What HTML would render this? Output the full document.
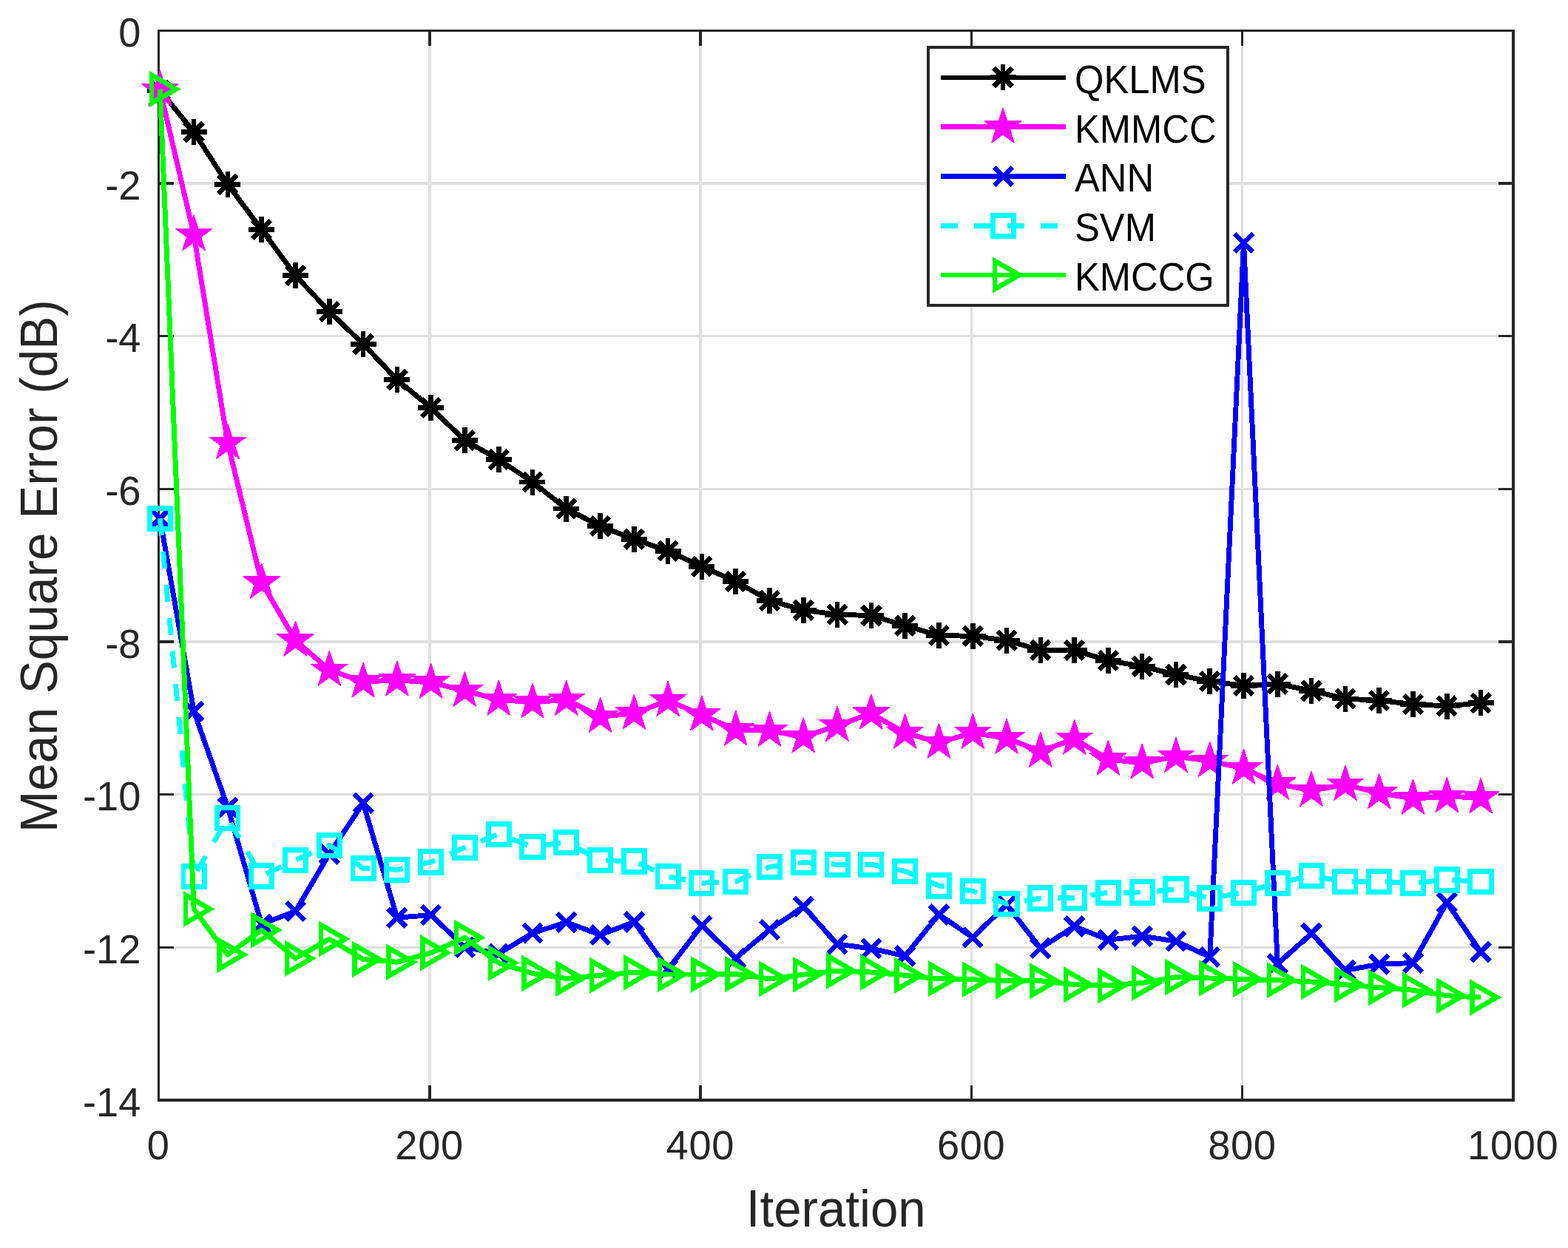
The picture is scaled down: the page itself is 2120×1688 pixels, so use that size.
<!DOCTYPE html>
<html lang="en"><head><meta charset="utf-8"><title>Mean Square Error vs Iteration</title>
<style>html,body{margin:0;padding:0;background:#fff}body{width:2120px;height:1688px;overflow:hidden}svg{display:block}text{font-family:"Liberation Sans",sans-serif}</style>
</head><body>
<svg xmlns="http://www.w3.org/2000/svg" width="2120" height="1688" viewBox="0 0 2120 1688">
<rect width="2120" height="1688" fill="#ffffff"/>
<g stroke="#dfdfdf" stroke-width="3.4" fill="none" shape-rendering="crispEdges">
<line x1="580.8" y1="41.5" x2="580.8" y2="1488.0"/>
<line x1="947.1" y1="41.5" x2="947.1" y2="1488.0"/>
<line x1="1313.4" y1="41.5" x2="1313.4" y2="1488.0"/>
<line x1="1679.7" y1="41.5" x2="1679.7" y2="1488.0"/>
<line x1="214.5" y1="248.14" x2="2046.0" y2="248.14"/>
<line x1="214.5" y1="454.79" x2="2046.0" y2="454.79"/>
<line x1="214.5" y1="661.43" x2="2046.0" y2="661.43"/>
<line x1="214.5" y1="868.07" x2="2046.0" y2="868.07"/>
<line x1="214.5" y1="1074.71" x2="2046.0" y2="1074.71"/>
<line x1="214.5" y1="1281.36" x2="2046.0" y2="1281.36"/>
</g>
<g stroke="#262626" stroke-width="3.4" fill="none" shape-rendering="crispEdges">
<rect x="214.5" y="41.5" width="1831.5" height="1446.5"/>
<line x1="580.8" y1="1488.0" x2="580.8" y2="1467.5"/>
<line x1="580.8" y1="41.5" x2="580.8" y2="62"/>
<line x1="947.1" y1="1488.0" x2="947.1" y2="1467.5"/>
<line x1="947.1" y1="41.5" x2="947.1" y2="62"/>
<line x1="1313.4" y1="1488.0" x2="1313.4" y2="1467.5"/>
<line x1="1313.4" y1="41.5" x2="1313.4" y2="62"/>
<line x1="1679.7" y1="1488.0" x2="1679.7" y2="1467.5"/>
<line x1="1679.7" y1="41.5" x2="1679.7" y2="62"/>
<line x1="214.5" y1="248.14" x2="235" y2="248.14"/>
<line x1="2046.0" y1="248.14" x2="2025.5" y2="248.14"/>
<line x1="214.5" y1="454.79" x2="235" y2="454.79"/>
<line x1="2046.0" y1="454.79" x2="2025.5" y2="454.79"/>
<line x1="214.5" y1="661.43" x2="235" y2="661.43"/>
<line x1="2046.0" y1="661.43" x2="2025.5" y2="661.43"/>
<line x1="214.5" y1="868.07" x2="235" y2="868.07"/>
<line x1="2046.0" y1="868.07" x2="2025.5" y2="868.07"/>
<line x1="214.5" y1="1074.71" x2="235" y2="1074.71"/>
<line x1="2046.0" y1="1074.71" x2="2025.5" y2="1074.71"/>
<line x1="214.5" y1="1281.36" x2="235" y2="1281.36"/>
<line x1="2046.0" y1="1281.36" x2="2025.5" y2="1281.36"/>
</g>
<g fill="#262626" font-size="54.2px">
<g letter-spacing="0.7">
<text transform="translate(214.25 1568.4) scale(1 1.04)" text-anchor="middle">0</text>
<text transform="translate(580.55 1568.4) scale(1 1.04)" text-anchor="middle">200</text>
<text transform="translate(946.85 1568.4) scale(1 1.04)" text-anchor="middle">400</text>
<text transform="translate(1313.15 1568.4) scale(1 1.04)" text-anchor="middle">600</text>
<text transform="translate(1679.45 1568.4) scale(1 1.04)" text-anchor="middle">800</text>
<text transform="translate(2045.75 1568.4) scale(1 1.04)" text-anchor="middle">1000</text>
</g>
<text transform="translate(190.4 63.2) scale(1 1.04)" text-anchor="end">0</text>
<text transform="translate(190.4 269.84) scale(1 1.04)" text-anchor="end">-2</text>
<text transform="translate(190.4 476.49) scale(1 1.04)" text-anchor="end">-4</text>
<text transform="translate(190.4 683.13) scale(1 1.04)" text-anchor="end">-6</text>
<text transform="translate(190.4 889.77) scale(1 1.04)" text-anchor="end">-8</text>
<text transform="translate(190.4 1096.41) scale(1 1.04)" text-anchor="end">-10</text>
<text transform="translate(190.4 1303.06) scale(1 1.04)" text-anchor="end">-12</text>
<text transform="translate(190.4 1509.7) scale(1 1.04)" text-anchor="end">-14</text>
</g>
<g fill="#262626" font-size="67.2px">
<text transform="translate(1130.25 1658.8) scale(1 1.04)" text-anchor="middle">Iteration</text>
<text transform="translate(77 765.6) rotate(-90) scale(1 1.04)" text-anchor="middle" font-size="67.55px">Mean Square Error (dB)</text>
</g>
<g shape-rendering="crispEdges">
<g><polyline points="216.33,122.2 262.12,178.5 307.91,249.3 353.69,310.5 399.48,372.5 445.27,421.5 491.06,465.4 536.84,513.5 582.63,551.6 628.42,595.75 674.21,621.5 719.99,652 765.78,688 811.57,711.75 857.36,729.25 903.14,745.2 948.93,766.25 994.72,786.5 1040.51,812.25 1086.29,825.25 1132.08,831.25 1177.87,832.5 1223.66,846.25 1269.44,859.5 1315.23,860.25 1361.02,866.25 1406.81,879.4 1452.59,879.5 1498.38,893.5 1544.17,901.25 1589.96,912.5 1635.74,921.5 1681.53,927.4 1727.32,925 1773.11,934.4 1818.89,945 1864.68,947.5 1910.47,952.5 1956.26,955 2002.04,950.75" fill="none" stroke="#000000" stroke-width="6.9" stroke-linejoin="round"/>
<path d="M198.83 122.2H233.83M216.33 104.7V139.7M203.96 109.83L228.71 134.57M203.96 134.57L228.71 109.83" stroke="#000000" stroke-width="6.6" fill="none"/>
<path d="M244.62 178.5H279.62M262.12 161V196M249.74 166.13L274.49 190.87M249.74 190.87L274.49 166.13" stroke="#000000" stroke-width="6.6" fill="none"/>
<path d="M290.41 249.3H325.41M307.91 231.8V266.8M295.53 236.93L320.28 261.67M295.53 261.67L320.28 236.93" stroke="#000000" stroke-width="6.6" fill="none"/>
<path d="M336.19 310.5H371.19M353.69 293V328M341.32 298.13L366.07 322.87M341.32 322.87L366.07 298.13" stroke="#000000" stroke-width="6.6" fill="none"/>
<path d="M381.98 372.5H416.98M399.48 355V390M387.11 360.13L411.86 384.87M387.11 384.87L411.86 360.13" stroke="#000000" stroke-width="6.6" fill="none"/>
<path d="M427.77 421.5H462.77M445.27 404V439M432.89 409.13L457.64 433.87M432.89 433.87L457.64 409.13" stroke="#000000" stroke-width="6.6" fill="none"/>
<path d="M473.56 465.4H508.56M491.06 447.9V482.9M478.68 453.03L503.43 477.77M478.68 477.77L503.43 453.03" stroke="#000000" stroke-width="6.6" fill="none"/>
<path d="M519.34 513.5H554.34M536.84 496V531M524.47 501.13L549.22 525.87M524.47 525.87L549.22 501.13" stroke="#000000" stroke-width="6.6" fill="none"/>
<path d="M565.13 551.6H600.13M582.63 534.1V569.1M570.26 539.23L595.01 563.97M570.26 563.97L595.01 539.23" stroke="#000000" stroke-width="6.6" fill="none"/>
<path d="M610.92 595.75H645.92M628.42 578.25V613.25M616.04 583.38L640.79 608.12M616.04 608.12L640.79 583.38" stroke="#000000" stroke-width="6.6" fill="none"/>
<path d="M656.71 621.5H691.71M674.21 604V639M661.83 609.13L686.58 633.87M661.83 633.87L686.58 609.13" stroke="#000000" stroke-width="6.6" fill="none"/>
<path d="M702.49 652H737.49M719.99 634.5V669.5M707.62 639.63L732.37 664.37M707.62 664.37L732.37 639.63" stroke="#000000" stroke-width="6.6" fill="none"/>
<path d="M748.28 688H783.28M765.78 670.5V705.5M753.41 675.63L778.16 700.37M753.41 700.37L778.16 675.63" stroke="#000000" stroke-width="6.6" fill="none"/>
<path d="M794.07 711.75H829.07M811.57 694.25V729.25M799.19 699.38L823.94 724.12M799.19 724.12L823.94 699.38" stroke="#000000" stroke-width="6.6" fill="none"/>
<path d="M839.86 729.25H874.86M857.36 711.75V746.75M844.98 716.88L869.73 741.62M844.98 741.62L869.73 716.88" stroke="#000000" stroke-width="6.6" fill="none"/>
<path d="M885.64 745.2H920.64M903.14 727.7V762.7M890.77 732.83L915.52 757.57M890.77 757.57L915.52 732.83" stroke="#000000" stroke-width="6.6" fill="none"/>
<path d="M931.43 766.25H966.43M948.93 748.75V783.75M936.56 753.88L961.31 778.62M936.56 778.62L961.31 753.88" stroke="#000000" stroke-width="6.6" fill="none"/>
<path d="M977.22 786.5H1012.22M994.72 769V804M982.34 774.13L1007.09 798.87M982.34 798.87L1007.09 774.13" stroke="#000000" stroke-width="6.6" fill="none"/>
<path d="M1023.01 812.25H1058.01M1040.51 794.75V829.75M1028.13 799.88L1052.88 824.62M1028.13 824.62L1052.88 799.88" stroke="#000000" stroke-width="6.6" fill="none"/>
<path d="M1068.79 825.25H1103.79M1086.29 807.75V842.75M1073.92 812.88L1098.67 837.62M1073.92 837.62L1098.67 812.88" stroke="#000000" stroke-width="6.6" fill="none"/>
<path d="M1114.58 831.25H1149.58M1132.08 813.75V848.75M1119.71 818.88L1144.46 843.62M1119.71 843.62L1144.46 818.88" stroke="#000000" stroke-width="6.6" fill="none"/>
<path d="M1160.37 832.5H1195.37M1177.87 815V850M1165.49 820.13L1190.24 844.87M1165.49 844.87L1190.24 820.13" stroke="#000000" stroke-width="6.6" fill="none"/>
<path d="M1206.16 846.25H1241.16M1223.66 828.75V863.75M1211.28 833.88L1236.03 858.62M1211.28 858.62L1236.03 833.88" stroke="#000000" stroke-width="6.6" fill="none"/>
<path d="M1251.94 859.5H1286.94M1269.44 842V877M1257.07 847.13L1281.82 871.87M1257.07 871.87L1281.82 847.13" stroke="#000000" stroke-width="6.6" fill="none"/>
<path d="M1297.73 860.25H1332.73M1315.23 842.75V877.75M1302.86 847.88L1327.61 872.62M1302.86 872.62L1327.61 847.88" stroke="#000000" stroke-width="6.6" fill="none"/>
<path d="M1343.52 866.25H1378.52M1361.02 848.75V883.75M1348.64 853.88L1373.39 878.62M1348.64 878.62L1373.39 853.88" stroke="#000000" stroke-width="6.6" fill="none"/>
<path d="M1389.31 879.4H1424.31M1406.81 861.9V896.9M1394.43 867.03L1419.18 891.77M1394.43 891.77L1419.18 867.03" stroke="#000000" stroke-width="6.6" fill="none"/>
<path d="M1435.09 879.5H1470.09M1452.59 862V897M1440.22 867.13L1464.97 891.87M1440.22 891.87L1464.97 867.13" stroke="#000000" stroke-width="6.6" fill="none"/>
<path d="M1480.88 893.5H1515.88M1498.38 876V911M1486.01 881.13L1510.76 905.87M1486.01 905.87L1510.76 881.13" stroke="#000000" stroke-width="6.6" fill="none"/>
<path d="M1526.67 901.25H1561.67M1544.17 883.75V918.75M1531.79 888.88L1556.54 913.62M1531.79 913.62L1556.54 888.88" stroke="#000000" stroke-width="6.6" fill="none"/>
<path d="M1572.46 912.5H1607.46M1589.96 895V930M1577.58 900.13L1602.33 924.87M1577.58 924.87L1602.33 900.13" stroke="#000000" stroke-width="6.6" fill="none"/>
<path d="M1618.24 921.5H1653.24M1635.74 904V939M1623.37 909.13L1648.12 933.87M1623.37 933.87L1648.12 909.13" stroke="#000000" stroke-width="6.6" fill="none"/>
<path d="M1664.03 927.4H1699.03M1681.53 909.9V944.9M1669.16 915.03L1693.91 939.77M1669.16 939.77L1693.91 915.03" stroke="#000000" stroke-width="6.6" fill="none"/>
<path d="M1709.82 925H1744.82M1727.32 907.5V942.5M1714.94 912.63L1739.69 937.37M1714.94 937.37L1739.69 912.63" stroke="#000000" stroke-width="6.6" fill="none"/>
<path d="M1755.61 934.4H1790.61M1773.11 916.9V951.9M1760.73 922.03L1785.48 946.77M1760.73 946.77L1785.48 922.03" stroke="#000000" stroke-width="6.6" fill="none"/>
<path d="M1801.39 945H1836.39M1818.89 927.5V962.5M1806.52 932.63L1831.27 957.37M1806.52 957.37L1831.27 932.63" stroke="#000000" stroke-width="6.6" fill="none"/>
<path d="M1847.18 947.5H1882.18M1864.68 930V965M1852.31 935.13L1877.06 959.87M1852.31 959.87L1877.06 935.13" stroke="#000000" stroke-width="6.6" fill="none"/>
<path d="M1892.97 952.5H1927.97M1910.47 935V970M1898.09 940.13L1922.84 964.87M1898.09 964.87L1922.84 940.13" stroke="#000000" stroke-width="6.6" fill="none"/>
<path d="M1938.76 955H1973.76M1956.26 937.5V972.5M1943.88 942.63L1968.63 967.37M1943.88 967.37L1968.63 942.63" stroke="#000000" stroke-width="6.6" fill="none"/>
<path d="M1984.54 950.75H2019.54M2002.04 933.25V968.25M1989.67 938.38L2014.42 963.12M1989.67 963.12L2014.42 938.38" stroke="#000000" stroke-width="6.6" fill="none"/>
</g>
<g><polyline points="216.33,121.7 262.12,317.5 307.91,599.25 353.69,788 399.48,866 445.27,906.25 491.06,922 536.84,920 582.63,923 628.42,934.25 674.21,946.25 719.99,950 765.78,946.25 811.57,969.25 857.36,965 903.14,947.5 948.93,967 994.72,987 1040.51,988.25 1086.29,996.75 1132.08,981.25 1177.87,965 1223.66,991.25 1269.44,1004.25 1315.23,991.25 1361.02,998.25 1406.81,1016.25 1452.59,999.25 1498.38,1027 1544.17,1032 1589.96,1023.25 1635.74,1029.25 1681.53,1039.25 1727.32,1060 1773.11,1069.25 1818.89,1061.25 1864.68,1072.5 1910.47,1080 1956.26,1077.5 2002.04,1078.75" fill="none" stroke="#ff00ff" stroke-width="6.9" stroke-linejoin="round"/>
<polygon points="215.81,95.3 216.85,95.3 222.62,113.05 241.28,113.05 241.6,114.04 226.5,125 232.27,142.75 231.43,143.36 216.33,132.4 201.23,143.36 200.39,142.75 206.16,125 191.06,114.04 191.38,113.05 210.05,113.05" fill="#ff00ff"/>
<polygon points="261.6,291.1 262.64,291.1 268.41,308.85 287.07,308.85 287.39,309.84 272.29,320.8 278.06,338.55 277.22,339.16 262.12,328.2 247.02,339.16 246.18,338.55 251.95,320.8 236.85,309.84 237.17,308.85 255.83,308.85" fill="#ff00ff"/>
<polygon points="307.39,572.85 308.43,572.85 314.19,590.6 332.85,590.6 333.18,591.59 318.08,602.55 323.84,620.3 323,620.91 307.91,609.95 292.81,620.91 291.97,620.3 297.73,602.55 282.64,591.59 282.96,590.6 301.62,590.6" fill="#ff00ff"/>
<polygon points="353.17,761.6 354.21,761.6 359.98,779.35 378.64,779.35 378.96,780.34 363.87,791.3 369.63,809.05 368.79,809.66 353.69,798.7 338.6,809.66 337.76,809.05 343.52,791.3 328.43,780.34 328.75,779.35 347.41,779.35" fill="#ff00ff"/>
<polygon points="398.96,839.6 400,839.6 405.77,857.35 424.43,857.35 424.75,858.34 409.65,869.3 415.42,887.05 414.58,887.66 399.48,876.7 384.38,887.66 383.54,887.05 389.31,869.3 374.21,858.34 374.53,857.35 393.2,857.35" fill="#ff00ff"/>
<polygon points="444.75,879.85 445.79,879.85 451.56,897.6 470.22,897.6 470.54,898.59 455.44,909.55 461.21,927.3 460.37,927.91 445.27,916.95 430.17,927.91 429.33,927.3 435.1,909.55 420,898.59 420.32,897.6 438.98,897.6" fill="#ff00ff"/>
<polygon points="490.54,895.6 491.58,895.6 497.34,913.35 516,913.35 516.33,914.34 501.23,925.3 506.99,943.05 506.15,943.66 491.06,932.7 475.96,943.66 475.12,943.05 480.88,925.3 465.79,914.34 466.11,913.35 484.77,913.35" fill="#ff00ff"/>
<polygon points="536.32,893.6 537.36,893.6 543.13,911.35 561.79,911.35 562.11,912.34 547.02,923.3 552.78,941.05 551.94,941.66 536.84,930.7 521.75,941.66 520.91,941.05 526.67,923.3 511.58,912.34 511.9,911.35 530.56,911.35" fill="#ff00ff"/>
<polygon points="582.11,896.6 583.15,896.6 588.92,914.35 607.58,914.35 607.9,915.34 592.8,926.3 598.57,944.05 597.73,944.66 582.63,933.7 567.53,944.66 566.69,944.05 572.46,926.3 557.36,915.34 557.68,914.35 576.35,914.35" fill="#ff00ff"/>
<polygon points="627.9,907.85 628.94,907.85 634.71,925.6 653.37,925.6 653.69,926.59 638.59,937.55 644.36,955.3 643.52,955.91 628.42,944.95 613.32,955.91 612.48,955.3 618.25,937.55 603.15,926.59 603.47,925.6 622.13,925.6" fill="#ff00ff"/>
<polygon points="673.69,919.85 674.73,919.85 680.49,937.6 699.15,937.6 699.48,938.59 684.38,949.55 690.14,967.3 689.3,967.91 674.21,956.95 659.11,967.91 658.27,967.3 664.03,949.55 648.94,938.59 649.26,937.6 667.92,937.6" fill="#ff00ff"/>
<polygon points="719.47,923.6 720.51,923.6 726.28,941.35 744.94,941.35 745.26,942.34 730.17,953.3 735.93,971.05 735.09,971.66 719.99,960.7 704.9,971.66 704.06,971.05 709.82,953.3 694.73,942.34 695.05,941.35 713.71,941.35" fill="#ff00ff"/>
<polygon points="765.26,919.85 766.3,919.85 772.07,937.6 790.73,937.6 791.05,938.59 775.95,949.55 781.72,967.3 780.88,967.91 765.78,956.95 750.68,967.91 749.84,967.3 755.61,949.55 740.51,938.59 740.83,937.6 759.5,937.6" fill="#ff00ff"/>
<polygon points="811.05,942.85 812.09,942.85 817.86,960.6 836.52,960.6 836.84,961.59 821.74,972.55 827.51,990.3 826.67,990.91 811.57,979.95 796.47,990.91 795.63,990.3 801.4,972.55 786.3,961.59 786.62,960.6 805.28,960.6" fill="#ff00ff"/>
<polygon points="856.84,938.6 857.88,938.6 863.64,956.35 882.3,956.35 882.63,957.34 867.53,968.3 873.29,986.05 872.45,986.66 857.36,975.7 842.26,986.66 841.42,986.05 847.18,968.3 832.09,957.34 832.41,956.35 851.07,956.35" fill="#ff00ff"/>
<polygon points="902.62,921.1 903.66,921.1 909.43,938.85 928.09,938.85 928.41,939.84 913.32,950.8 919.08,968.55 918.24,969.16 903.14,958.2 888.05,969.16 887.21,968.55 892.97,950.8 877.88,939.84 878.2,938.85 896.86,938.85" fill="#ff00ff"/>
<polygon points="948.41,940.6 949.45,940.6 955.22,958.35 973.88,958.35 974.2,959.34 959.1,970.3 964.87,988.05 964.03,988.66 948.93,977.7 933.83,988.66 932.99,988.05 938.76,970.3 923.66,959.34 923.98,958.35 942.65,958.35" fill="#ff00ff"/>
<polygon points="994.2,960.6 995.24,960.6 1001.01,978.35 1019.67,978.35 1019.99,979.34 1004.89,990.3 1010.66,1008.05 1009.82,1008.66 994.72,997.7 979.62,1008.66 978.78,1008.05 984.55,990.3 969.45,979.34 969.77,978.35 988.43,978.35" fill="#ff00ff"/>
<polygon points="1039.99,961.85 1041.03,961.85 1046.79,979.6 1065.45,979.6 1065.78,980.59 1050.68,991.55 1056.44,1009.3 1055.6,1009.91 1040.51,998.95 1025.41,1009.91 1024.57,1009.3 1030.33,991.55 1015.24,980.59 1015.56,979.6 1034.22,979.6" fill="#ff00ff"/>
<polygon points="1085.77,970.35 1086.81,970.35 1092.58,988.1 1111.24,988.1 1111.56,989.09 1096.47,1000.05 1102.23,1017.8 1101.39,1018.41 1086.29,1007.45 1071.2,1018.41 1070.36,1017.8 1076.12,1000.05 1061.03,989.09 1061.35,988.1 1080.01,988.1" fill="#ff00ff"/>
<polygon points="1131.56,954.85 1132.6,954.85 1138.37,972.6 1157.03,972.6 1157.35,973.59 1142.25,984.55 1148.02,1002.3 1147.18,1002.91 1132.08,991.95 1116.98,1002.91 1116.14,1002.3 1121.91,984.55 1106.81,973.59 1107.13,972.6 1125.8,972.6" fill="#ff00ff"/>
<polygon points="1177.35,938.6 1178.39,938.6 1184.16,956.35 1202.82,956.35 1203.14,957.34 1188.04,968.3 1193.81,986.05 1192.97,986.66 1177.87,975.7 1162.77,986.66 1161.93,986.05 1167.7,968.3 1152.6,957.34 1152.92,956.35 1171.58,956.35" fill="#ff00ff"/>
<polygon points="1223.14,964.85 1224.18,964.85 1229.94,982.6 1248.6,982.6 1248.93,983.59 1233.83,994.55 1239.59,1012.3 1238.75,1012.91 1223.66,1001.95 1208.56,1012.91 1207.72,1012.3 1213.48,994.55 1198.39,983.59 1198.71,982.6 1217.37,982.6" fill="#ff00ff"/>
<polygon points="1268.92,977.85 1269.96,977.85 1275.73,995.6 1294.39,995.6 1294.71,996.59 1279.62,1007.55 1285.38,1025.3 1284.54,1025.91 1269.44,1014.95 1254.35,1025.91 1253.51,1025.3 1259.27,1007.55 1244.18,996.59 1244.5,995.6 1263.16,995.6" fill="#ff00ff"/>
<polygon points="1314.71,964.85 1315.75,964.85 1321.52,982.6 1340.18,982.6 1340.5,983.59 1325.4,994.55 1331.17,1012.3 1330.33,1012.91 1315.23,1001.95 1300.13,1012.91 1299.29,1012.3 1305.06,994.55 1289.96,983.59 1290.28,982.6 1308.95,982.6" fill="#ff00ff"/>
<polygon points="1360.5,971.85 1361.54,971.85 1367.31,989.6 1385.97,989.6 1386.29,990.59 1371.19,1001.55 1376.96,1019.3 1376.12,1019.91 1361.02,1008.95 1345.92,1019.91 1345.08,1019.3 1350.85,1001.55 1335.75,990.59 1336.07,989.6 1354.73,989.6" fill="#ff00ff"/>
<polygon points="1406.29,989.85 1407.33,989.85 1413.09,1007.6 1431.75,1007.6 1432.08,1008.59 1416.98,1019.55 1422.74,1037.3 1421.9,1037.91 1406.81,1026.95 1391.71,1037.91 1390.87,1037.3 1396.63,1019.55 1381.54,1008.59 1381.86,1007.6 1400.52,1007.6" fill="#ff00ff"/>
<polygon points="1452.07,972.85 1453.11,972.85 1458.88,990.6 1477.54,990.6 1477.86,991.59 1462.77,1002.55 1468.53,1020.3 1467.69,1020.91 1452.59,1009.95 1437.5,1020.91 1436.66,1020.3 1442.42,1002.55 1427.33,991.59 1427.65,990.6 1446.31,990.6" fill="#ff00ff"/>
<polygon points="1497.86,1000.6 1498.9,1000.6 1504.67,1018.35 1523.33,1018.35 1523.65,1019.34 1508.55,1030.3 1514.32,1048.05 1513.48,1048.66 1498.38,1037.7 1483.28,1048.66 1482.44,1048.05 1488.21,1030.3 1473.11,1019.34 1473.43,1018.35 1492.1,1018.35" fill="#ff00ff"/>
<polygon points="1543.65,1005.6 1544.69,1005.6 1550.46,1023.35 1569.12,1023.35 1569.44,1024.34 1554.34,1035.3 1560.11,1053.05 1559.27,1053.66 1544.17,1042.7 1529.07,1053.66 1528.23,1053.05 1534,1035.3 1518.9,1024.34 1519.22,1023.35 1537.88,1023.35" fill="#ff00ff"/>
<polygon points="1589.44,996.85 1590.48,996.85 1596.24,1014.6 1614.9,1014.6 1615.23,1015.59 1600.13,1026.55 1605.89,1044.3 1605.05,1044.91 1589.96,1033.95 1574.86,1044.91 1574.02,1044.3 1579.78,1026.55 1564.69,1015.59 1565.01,1014.6 1583.67,1014.6" fill="#ff00ff"/>
<polygon points="1635.22,1002.85 1636.26,1002.85 1642.03,1020.6 1660.69,1020.6 1661.01,1021.59 1645.92,1032.55 1651.68,1050.3 1650.84,1050.91 1635.74,1039.95 1620.65,1050.91 1619.81,1050.3 1625.57,1032.55 1610.48,1021.59 1610.8,1020.6 1629.46,1020.6" fill="#ff00ff"/>
<polygon points="1681.01,1012.85 1682.05,1012.85 1687.82,1030.6 1706.48,1030.6 1706.8,1031.59 1691.7,1042.55 1697.47,1060.3 1696.63,1060.91 1681.53,1049.95 1666.43,1060.91 1665.59,1060.3 1671.36,1042.55 1656.26,1031.59 1656.58,1030.6 1675.25,1030.6" fill="#ff00ff"/>
<polygon points="1726.8,1033.6 1727.84,1033.6 1733.61,1051.35 1752.27,1051.35 1752.59,1052.34 1737.49,1063.3 1743.26,1081.05 1742.42,1081.66 1727.32,1070.7 1712.22,1081.66 1711.38,1081.05 1717.15,1063.3 1702.05,1052.34 1702.37,1051.35 1721.03,1051.35" fill="#ff00ff"/>
<polygon points="1772.59,1042.85 1773.63,1042.85 1779.39,1060.6 1798.05,1060.6 1798.38,1061.59 1783.28,1072.55 1789.04,1090.3 1788.2,1090.91 1773.11,1079.95 1758.01,1090.91 1757.17,1090.3 1762.93,1072.55 1747.84,1061.59 1748.16,1060.6 1766.82,1060.6" fill="#ff00ff"/>
<polygon points="1818.37,1034.85 1819.41,1034.85 1825.18,1052.6 1843.84,1052.6 1844.16,1053.59 1829.07,1064.55 1834.83,1082.3 1833.99,1082.91 1818.89,1071.95 1803.8,1082.91 1802.96,1082.3 1808.72,1064.55 1793.63,1053.59 1793.95,1052.6 1812.61,1052.6" fill="#ff00ff"/>
<polygon points="1864.16,1046.1 1865.2,1046.1 1870.97,1063.85 1889.63,1063.85 1889.95,1064.84 1874.85,1075.8 1880.62,1093.55 1879.78,1094.16 1864.68,1083.2 1849.58,1094.16 1848.74,1093.55 1854.51,1075.8 1839.41,1064.84 1839.73,1063.85 1858.4,1063.85" fill="#ff00ff"/>
<polygon points="1909.95,1053.6 1910.99,1053.6 1916.76,1071.35 1935.42,1071.35 1935.74,1072.34 1920.64,1083.3 1926.41,1101.05 1925.57,1101.66 1910.47,1090.7 1895.37,1101.66 1894.53,1101.05 1900.3,1083.3 1885.2,1072.34 1885.52,1071.35 1904.18,1071.35" fill="#ff00ff"/>
<polygon points="1955.74,1051.1 1956.78,1051.1 1962.54,1068.85 1981.2,1068.85 1981.53,1069.84 1966.43,1080.8 1972.19,1098.55 1971.35,1099.16 1956.26,1088.2 1941.16,1099.16 1940.32,1098.55 1946.08,1080.8 1930.99,1069.84 1931.31,1068.85 1949.97,1068.85" fill="#ff00ff"/>
<polygon points="2001.52,1052.35 2002.56,1052.35 2008.33,1070.1 2026.99,1070.1 2027.31,1071.09 2012.22,1082.05 2017.98,1099.8 2017.14,1100.41 2002.04,1089.45 1986.95,1100.41 1986.11,1099.8 1991.87,1082.05 1976.78,1071.09 1977.1,1070.1 1995.76,1070.1" fill="#ff00ff"/>
</g>
<g><polyline points="216.33,701.25 262.12,962 307.91,1092 353.69,1250 399.48,1232.5 445.27,1155 491.06,1086.25 536.84,1241.25 582.63,1237.5 628.42,1281.25 674.21,1290 719.99,1262 765.78,1247.5 811.57,1264.5 857.36,1247 903.14,1311 948.93,1251.75 994.72,1296 1040.51,1257.5 1086.29,1226.25 1132.08,1277 1177.87,1283 1223.66,1293 1269.44,1237 1315.23,1268 1361.02,1223.75 1406.81,1282.5 1452.59,1253 1498.38,1271.25 1544.17,1266.25 1589.96,1273 1635.74,1294.5 1681.53,328.25 1727.32,1303.75 1773.11,1262.5 1818.89,1312.5 1864.68,1304.25 1910.47,1302.5 1956.26,1220.75 2002.04,1287.5" fill="none" stroke="#0000ff" stroke-width="6.9" stroke-linejoin="round"/>
<path d="M203.96 688.88L228.71 713.62M203.96 713.62L228.71 688.88" stroke="#0000ff" stroke-width="6.6" fill="none"/>
<path d="M249.74 949.63L274.49 974.37M249.74 974.37L274.49 949.63" stroke="#0000ff" stroke-width="6.6" fill="none"/>
<path d="M295.53 1079.63L320.28 1104.37M295.53 1104.37L320.28 1079.63" stroke="#0000ff" stroke-width="6.6" fill="none"/>
<path d="M341.32 1237.63L366.07 1262.37M341.32 1262.37L366.07 1237.63" stroke="#0000ff" stroke-width="6.6" fill="none"/>
<path d="M387.11 1220.13L411.86 1244.87M387.11 1244.87L411.86 1220.13" stroke="#0000ff" stroke-width="6.6" fill="none"/>
<path d="M432.89 1142.63L457.64 1167.37M432.89 1167.37L457.64 1142.63" stroke="#0000ff" stroke-width="6.6" fill="none"/>
<path d="M478.68 1073.88L503.43 1098.62M478.68 1098.62L503.43 1073.88" stroke="#0000ff" stroke-width="6.6" fill="none"/>
<path d="M524.47 1228.88L549.22 1253.62M524.47 1253.62L549.22 1228.88" stroke="#0000ff" stroke-width="6.6" fill="none"/>
<path d="M570.26 1225.13L595.01 1249.87M570.26 1249.87L595.01 1225.13" stroke="#0000ff" stroke-width="6.6" fill="none"/>
<path d="M616.04 1268.88L640.79 1293.62M616.04 1293.62L640.79 1268.88" stroke="#0000ff" stroke-width="6.6" fill="none"/>
<path d="M661.83 1277.63L686.58 1302.37M661.83 1302.37L686.58 1277.63" stroke="#0000ff" stroke-width="6.6" fill="none"/>
<path d="M707.62 1249.63L732.37 1274.37M707.62 1274.37L732.37 1249.63" stroke="#0000ff" stroke-width="6.6" fill="none"/>
<path d="M753.41 1235.13L778.16 1259.87M753.41 1259.87L778.16 1235.13" stroke="#0000ff" stroke-width="6.6" fill="none"/>
<path d="M799.19 1252.13L823.94 1276.87M799.19 1276.87L823.94 1252.13" stroke="#0000ff" stroke-width="6.6" fill="none"/>
<path d="M844.98 1234.63L869.73 1259.37M844.98 1259.37L869.73 1234.63" stroke="#0000ff" stroke-width="6.6" fill="none"/>
<path d="M890.77 1298.63L915.52 1323.37M890.77 1323.37L915.52 1298.63" stroke="#0000ff" stroke-width="6.6" fill="none"/>
<path d="M936.56 1239.38L961.31 1264.12M936.56 1264.12L961.31 1239.38" stroke="#0000ff" stroke-width="6.6" fill="none"/>
<path d="M982.34 1283.63L1007.09 1308.37M982.34 1308.37L1007.09 1283.63" stroke="#0000ff" stroke-width="6.6" fill="none"/>
<path d="M1028.13 1245.13L1052.88 1269.87M1028.13 1269.87L1052.88 1245.13" stroke="#0000ff" stroke-width="6.6" fill="none"/>
<path d="M1073.92 1213.88L1098.67 1238.62M1073.92 1238.62L1098.67 1213.88" stroke="#0000ff" stroke-width="6.6" fill="none"/>
<path d="M1119.71 1264.63L1144.46 1289.37M1119.71 1289.37L1144.46 1264.63" stroke="#0000ff" stroke-width="6.6" fill="none"/>
<path d="M1165.49 1270.63L1190.24 1295.37M1165.49 1295.37L1190.24 1270.63" stroke="#0000ff" stroke-width="6.6" fill="none"/>
<path d="M1211.28 1280.63L1236.03 1305.37M1211.28 1305.37L1236.03 1280.63" stroke="#0000ff" stroke-width="6.6" fill="none"/>
<path d="M1257.07 1224.63L1281.82 1249.37M1257.07 1249.37L1281.82 1224.63" stroke="#0000ff" stroke-width="6.6" fill="none"/>
<path d="M1302.86 1255.63L1327.61 1280.37M1302.86 1280.37L1327.61 1255.63" stroke="#0000ff" stroke-width="6.6" fill="none"/>
<path d="M1348.64 1211.38L1373.39 1236.12M1348.64 1236.12L1373.39 1211.38" stroke="#0000ff" stroke-width="6.6" fill="none"/>
<path d="M1394.43 1270.13L1419.18 1294.87M1394.43 1294.87L1419.18 1270.13" stroke="#0000ff" stroke-width="6.6" fill="none"/>
<path d="M1440.22 1240.63L1464.97 1265.37M1440.22 1265.37L1464.97 1240.63" stroke="#0000ff" stroke-width="6.6" fill="none"/>
<path d="M1486.01 1258.88L1510.76 1283.62M1486.01 1283.62L1510.76 1258.88" stroke="#0000ff" stroke-width="6.6" fill="none"/>
<path d="M1531.79 1253.88L1556.54 1278.62M1531.79 1278.62L1556.54 1253.88" stroke="#0000ff" stroke-width="6.6" fill="none"/>
<path d="M1577.58 1260.63L1602.33 1285.37M1577.58 1285.37L1602.33 1260.63" stroke="#0000ff" stroke-width="6.6" fill="none"/>
<path d="M1623.37 1282.13L1648.12 1306.87M1623.37 1306.87L1648.12 1282.13" stroke="#0000ff" stroke-width="6.6" fill="none"/>
<path d="M1669.16 315.88L1693.91 340.62M1669.16 340.62L1693.91 315.88" stroke="#0000ff" stroke-width="6.6" fill="none"/>
<path d="M1714.94 1291.38L1739.69 1316.12M1714.94 1316.12L1739.69 1291.38" stroke="#0000ff" stroke-width="6.6" fill="none"/>
<path d="M1760.73 1250.13L1785.48 1274.87M1760.73 1274.87L1785.48 1250.13" stroke="#0000ff" stroke-width="6.6" fill="none"/>
<path d="M1806.52 1300.13L1831.27 1324.87M1806.52 1324.87L1831.27 1300.13" stroke="#0000ff" stroke-width="6.6" fill="none"/>
<path d="M1852.31 1291.88L1877.06 1316.62M1852.31 1316.62L1877.06 1291.88" stroke="#0000ff" stroke-width="6.6" fill="none"/>
<path d="M1898.09 1290.13L1922.84 1314.87M1898.09 1314.87L1922.84 1290.13" stroke="#0000ff" stroke-width="6.6" fill="none"/>
<path d="M1943.88 1208.38L1968.63 1233.12M1943.88 1233.12L1968.63 1208.38" stroke="#0000ff" stroke-width="6.6" fill="none"/>
<path d="M1989.67 1275.13L2014.42 1299.87M1989.67 1299.87L2014.42 1275.13" stroke="#0000ff" stroke-width="6.6" fill="none"/>
</g>
<g><polyline points="216.33,701.25 262.12,1185.5 307.91,1106.75 353.69,1185 399.48,1163.25 445.27,1143.25 491.06,1174.4 536.84,1176.25 582.63,1166 628.42,1146.25 674.21,1128.25 719.99,1145.25 765.78,1139.4 811.57,1163.25 857.36,1165 903.14,1185.6 948.93,1194.25 994.72,1192.5 1040.51,1172.5 1086.29,1166.5 1132.08,1169.25 1177.87,1169.25 1223.66,1178.25 1269.44,1198 1315.23,1205.25 1361.02,1222.5 1406.81,1215 1452.59,1214.25 1498.38,1207.25 1544.17,1207 1589.96,1203 1635.74,1215 1681.53,1207.25 1727.32,1194.4 1773.11,1184.5 1818.89,1192.5 1864.68,1192.5 1910.47,1194.5 1956.26,1190 2002.04,1192.25" fill="none" stroke="#00ffff" stroke-width="6.9" stroke-linejoin="round" stroke-dasharray="23.1 21.9"/>
<rect x="202.23" y="687.15" width="28.2" height="28.2" fill="none" stroke="#00ffff" stroke-width="6.9"/>
<rect x="248.02" y="1171.4" width="28.2" height="28.2" fill="none" stroke="#00ffff" stroke-width="6.9"/>
<rect x="293.81" y="1092.65" width="28.2" height="28.2" fill="none" stroke="#00ffff" stroke-width="6.9"/>
<rect x="339.59" y="1170.9" width="28.2" height="28.2" fill="none" stroke="#00ffff" stroke-width="6.9"/>
<rect x="385.38" y="1149.15" width="28.2" height="28.2" fill="none" stroke="#00ffff" stroke-width="6.9"/>
<rect x="431.17" y="1129.15" width="28.2" height="28.2" fill="none" stroke="#00ffff" stroke-width="6.9"/>
<rect x="476.96" y="1160.3" width="28.2" height="28.2" fill="none" stroke="#00ffff" stroke-width="6.9"/>
<rect x="522.74" y="1162.15" width="28.2" height="28.2" fill="none" stroke="#00ffff" stroke-width="6.9"/>
<rect x="568.53" y="1151.9" width="28.2" height="28.2" fill="none" stroke="#00ffff" stroke-width="6.9"/>
<rect x="614.32" y="1132.15" width="28.2" height="28.2" fill="none" stroke="#00ffff" stroke-width="6.9"/>
<rect x="660.11" y="1114.15" width="28.2" height="28.2" fill="none" stroke="#00ffff" stroke-width="6.9"/>
<rect x="705.89" y="1131.15" width="28.2" height="28.2" fill="none" stroke="#00ffff" stroke-width="6.9"/>
<rect x="751.68" y="1125.3" width="28.2" height="28.2" fill="none" stroke="#00ffff" stroke-width="6.9"/>
<rect x="797.47" y="1149.15" width="28.2" height="28.2" fill="none" stroke="#00ffff" stroke-width="6.9"/>
<rect x="843.26" y="1150.9" width="28.2" height="28.2" fill="none" stroke="#00ffff" stroke-width="6.9"/>
<rect x="889.04" y="1171.5" width="28.2" height="28.2" fill="none" stroke="#00ffff" stroke-width="6.9"/>
<rect x="934.83" y="1180.15" width="28.2" height="28.2" fill="none" stroke="#00ffff" stroke-width="6.9"/>
<rect x="980.62" y="1178.4" width="28.2" height="28.2" fill="none" stroke="#00ffff" stroke-width="6.9"/>
<rect x="1026.41" y="1158.4" width="28.2" height="28.2" fill="none" stroke="#00ffff" stroke-width="6.9"/>
<rect x="1072.19" y="1152.4" width="28.2" height="28.2" fill="none" stroke="#00ffff" stroke-width="6.9"/>
<rect x="1117.98" y="1155.15" width="28.2" height="28.2" fill="none" stroke="#00ffff" stroke-width="6.9"/>
<rect x="1163.77" y="1155.15" width="28.2" height="28.2" fill="none" stroke="#00ffff" stroke-width="6.9"/>
<rect x="1209.56" y="1164.15" width="28.2" height="28.2" fill="none" stroke="#00ffff" stroke-width="6.9"/>
<rect x="1255.34" y="1183.9" width="28.2" height="28.2" fill="none" stroke="#00ffff" stroke-width="6.9"/>
<rect x="1301.13" y="1191.15" width="28.2" height="28.2" fill="none" stroke="#00ffff" stroke-width="6.9"/>
<rect x="1346.92" y="1208.4" width="28.2" height="28.2" fill="none" stroke="#00ffff" stroke-width="6.9"/>
<rect x="1392.71" y="1200.9" width="28.2" height="28.2" fill="none" stroke="#00ffff" stroke-width="6.9"/>
<rect x="1438.49" y="1200.15" width="28.2" height="28.2" fill="none" stroke="#00ffff" stroke-width="6.9"/>
<rect x="1484.28" y="1193.15" width="28.2" height="28.2" fill="none" stroke="#00ffff" stroke-width="6.9"/>
<rect x="1530.07" y="1192.9" width="28.2" height="28.2" fill="none" stroke="#00ffff" stroke-width="6.9"/>
<rect x="1575.86" y="1188.9" width="28.2" height="28.2" fill="none" stroke="#00ffff" stroke-width="6.9"/>
<rect x="1621.64" y="1200.9" width="28.2" height="28.2" fill="none" stroke="#00ffff" stroke-width="6.9"/>
<rect x="1667.43" y="1193.15" width="28.2" height="28.2" fill="none" stroke="#00ffff" stroke-width="6.9"/>
<rect x="1713.22" y="1180.3" width="28.2" height="28.2" fill="none" stroke="#00ffff" stroke-width="6.9"/>
<rect x="1759.01" y="1170.4" width="28.2" height="28.2" fill="none" stroke="#00ffff" stroke-width="6.9"/>
<rect x="1804.79" y="1178.4" width="28.2" height="28.2" fill="none" stroke="#00ffff" stroke-width="6.9"/>
<rect x="1850.58" y="1178.4" width="28.2" height="28.2" fill="none" stroke="#00ffff" stroke-width="6.9"/>
<rect x="1896.37" y="1180.4" width="28.2" height="28.2" fill="none" stroke="#00ffff" stroke-width="6.9"/>
<rect x="1942.16" y="1175.9" width="28.2" height="28.2" fill="none" stroke="#00ffff" stroke-width="6.9"/>
<rect x="1987.94" y="1178.15" width="28.2" height="28.2" fill="none" stroke="#00ffff" stroke-width="6.9"/>
</g>
<g><polyline points="216.33,120.5 262.12,1229.5 307.91,1291.25 353.69,1258 399.48,1296.25 445.27,1270 491.06,1297.5 536.84,1301.25 582.63,1288.75 628.42,1268.25 674.21,1302.5 719.99,1316.5 765.78,1323.5 811.57,1319.25 857.36,1315.25 903.14,1318 948.93,1318 994.72,1317.5 1040.51,1324 1086.29,1318.25 1132.08,1313 1177.87,1315 1223.66,1319.25 1269.44,1323.75 1315.23,1324.75 1361.02,1326.75 1406.81,1326.75 1452.59,1331.75 1498.38,1333 1544.17,1329.5 1589.96,1321.75 1635.74,1323 1681.53,1324.5 1727.32,1325.75 1773.11,1328 1818.89,1331.75 1864.68,1335.75 1910.47,1339.25 1956.26,1346.75 2002.04,1349" fill="none" stroke="#00ff00" stroke-width="6.9" stroke-linejoin="round"/>
<path d="M201.73 95.8L244.73 120.5L201.73 145.2ZM208.23 107.3L208.23 133.7L231.33 120.5Z" fill="#00ff00" fill-rule="evenodd"/>
<path d="M247.52 1204.8L290.52 1229.5L247.52 1254.2ZM254.02 1216.3L254.02 1242.7L277.12 1229.5Z" fill="#00ff00" fill-rule="evenodd"/>
<path d="M293.31 1266.55L336.31 1291.25L293.31 1315.95ZM299.81 1278.05L299.81 1304.45L322.91 1291.25Z" fill="#00ff00" fill-rule="evenodd"/>
<path d="M339.09 1233.3L382.09 1258L339.09 1282.7ZM345.59 1244.8L345.59 1271.2L368.69 1258Z" fill="#00ff00" fill-rule="evenodd"/>
<path d="M384.88 1271.55L427.88 1296.25L384.88 1320.95ZM391.38 1283.05L391.38 1309.45L414.48 1296.25Z" fill="#00ff00" fill-rule="evenodd"/>
<path d="M430.67 1245.3L473.67 1270L430.67 1294.7ZM437.17 1256.8L437.17 1283.2L460.27 1270Z" fill="#00ff00" fill-rule="evenodd"/>
<path d="M476.46 1272.8L519.46 1297.5L476.46 1322.2ZM482.96 1284.3L482.96 1310.7L506.06 1297.5Z" fill="#00ff00" fill-rule="evenodd"/>
<path d="M522.24 1276.55L565.24 1301.25L522.24 1325.95ZM528.74 1288.05L528.74 1314.45L551.84 1301.25Z" fill="#00ff00" fill-rule="evenodd"/>
<path d="M568.03 1264.05L611.03 1288.75L568.03 1313.45ZM574.53 1275.55L574.53 1301.95L597.63 1288.75Z" fill="#00ff00" fill-rule="evenodd"/>
<path d="M613.82 1243.55L656.82 1268.25L613.82 1292.95ZM620.32 1255.05L620.32 1281.45L643.42 1268.25Z" fill="#00ff00" fill-rule="evenodd"/>
<path d="M659.61 1277.8L702.61 1302.5L659.61 1327.2ZM666.11 1289.3L666.11 1315.7L689.21 1302.5Z" fill="#00ff00" fill-rule="evenodd"/>
<path d="M705.39 1291.8L748.39 1316.5L705.39 1341.2ZM711.89 1303.3L711.89 1329.7L734.99 1316.5Z" fill="#00ff00" fill-rule="evenodd"/>
<path d="M751.18 1298.8L794.18 1323.5L751.18 1348.2ZM757.68 1310.3L757.68 1336.7L780.78 1323.5Z" fill="#00ff00" fill-rule="evenodd"/>
<path d="M796.97 1294.55L839.97 1319.25L796.97 1343.95ZM803.47 1306.05L803.47 1332.45L826.57 1319.25Z" fill="#00ff00" fill-rule="evenodd"/>
<path d="M842.76 1290.55L885.76 1315.25L842.76 1339.95ZM849.26 1302.05L849.26 1328.45L872.36 1315.25Z" fill="#00ff00" fill-rule="evenodd"/>
<path d="M888.54 1293.3L931.54 1318L888.54 1342.7ZM895.04 1304.8L895.04 1331.2L918.14 1318Z" fill="#00ff00" fill-rule="evenodd"/>
<path d="M934.33 1293.3L977.33 1318L934.33 1342.7ZM940.83 1304.8L940.83 1331.2L963.93 1318Z" fill="#00ff00" fill-rule="evenodd"/>
<path d="M980.12 1292.8L1023.12 1317.5L980.12 1342.2ZM986.62 1304.3L986.62 1330.7L1009.72 1317.5Z" fill="#00ff00" fill-rule="evenodd"/>
<path d="M1025.91 1299.3L1068.91 1324L1025.91 1348.7ZM1032.41 1310.8L1032.41 1337.2L1055.51 1324Z" fill="#00ff00" fill-rule="evenodd"/>
<path d="M1071.69 1293.55L1114.69 1318.25L1071.69 1342.95ZM1078.19 1305.05L1078.19 1331.45L1101.29 1318.25Z" fill="#00ff00" fill-rule="evenodd"/>
<path d="M1117.48 1288.3L1160.48 1313L1117.48 1337.7ZM1123.98 1299.8L1123.98 1326.2L1147.08 1313Z" fill="#00ff00" fill-rule="evenodd"/>
<path d="M1163.27 1290.3L1206.27 1315L1163.27 1339.7ZM1169.77 1301.8L1169.77 1328.2L1192.87 1315Z" fill="#00ff00" fill-rule="evenodd"/>
<path d="M1209.06 1294.55L1252.06 1319.25L1209.06 1343.95ZM1215.56 1306.05L1215.56 1332.45L1238.66 1319.25Z" fill="#00ff00" fill-rule="evenodd"/>
<path d="M1254.84 1299.05L1297.84 1323.75L1254.84 1348.45ZM1261.34 1310.55L1261.34 1336.95L1284.44 1323.75Z" fill="#00ff00" fill-rule="evenodd"/>
<path d="M1300.63 1300.05L1343.63 1324.75L1300.63 1349.45ZM1307.13 1311.55L1307.13 1337.95L1330.23 1324.75Z" fill="#00ff00" fill-rule="evenodd"/>
<path d="M1346.42 1302.05L1389.42 1326.75L1346.42 1351.45ZM1352.92 1313.55L1352.92 1339.95L1376.02 1326.75Z" fill="#00ff00" fill-rule="evenodd"/>
<path d="M1392.21 1302.05L1435.21 1326.75L1392.21 1351.45ZM1398.71 1313.55L1398.71 1339.95L1421.81 1326.75Z" fill="#00ff00" fill-rule="evenodd"/>
<path d="M1437.99 1307.05L1480.99 1331.75L1437.99 1356.45ZM1444.49 1318.55L1444.49 1344.95L1467.59 1331.75Z" fill="#00ff00" fill-rule="evenodd"/>
<path d="M1483.78 1308.3L1526.78 1333L1483.78 1357.7ZM1490.28 1319.8L1490.28 1346.2L1513.38 1333Z" fill="#00ff00" fill-rule="evenodd"/>
<path d="M1529.57 1304.8L1572.57 1329.5L1529.57 1354.2ZM1536.07 1316.3L1536.07 1342.7L1559.17 1329.5Z" fill="#00ff00" fill-rule="evenodd"/>
<path d="M1575.36 1297.05L1618.36 1321.75L1575.36 1346.45ZM1581.86 1308.55L1581.86 1334.95L1604.96 1321.75Z" fill="#00ff00" fill-rule="evenodd"/>
<path d="M1621.14 1298.3L1664.14 1323L1621.14 1347.7ZM1627.64 1309.8L1627.64 1336.2L1650.74 1323Z" fill="#00ff00" fill-rule="evenodd"/>
<path d="M1666.93 1299.8L1709.93 1324.5L1666.93 1349.2ZM1673.43 1311.3L1673.43 1337.7L1696.53 1324.5Z" fill="#00ff00" fill-rule="evenodd"/>
<path d="M1712.72 1301.05L1755.72 1325.75L1712.72 1350.45ZM1719.22 1312.55L1719.22 1338.95L1742.32 1325.75Z" fill="#00ff00" fill-rule="evenodd"/>
<path d="M1758.51 1303.3L1801.51 1328L1758.51 1352.7ZM1765.01 1314.8L1765.01 1341.2L1788.11 1328Z" fill="#00ff00" fill-rule="evenodd"/>
<path d="M1804.29 1307.05L1847.29 1331.75L1804.29 1356.45ZM1810.79 1318.55L1810.79 1344.95L1833.89 1331.75Z" fill="#00ff00" fill-rule="evenodd"/>
<path d="M1850.08 1311.05L1893.08 1335.75L1850.08 1360.45ZM1856.58 1322.55L1856.58 1348.95L1879.68 1335.75Z" fill="#00ff00" fill-rule="evenodd"/>
<path d="M1895.87 1314.55L1938.87 1339.25L1895.87 1363.95ZM1902.37 1326.05L1902.37 1352.45L1925.47 1339.25Z" fill="#00ff00" fill-rule="evenodd"/>
<path d="M1941.66 1322.05L1984.66 1346.75L1941.66 1371.45ZM1948.16 1333.55L1948.16 1359.95L1971.26 1346.75Z" fill="#00ff00" fill-rule="evenodd"/>
<path d="M1987.44 1324.3L2030.44 1349L1987.44 1373.7ZM1993.94 1335.8L1993.94 1362.2L2017.04 1349Z" fill="#00ff00" fill-rule="evenodd"/>
</g>
</g>
<g shape-rendering="crispEdges"><rect x="1255.0" y="64.0" width="405.0" height="349.0" fill="#ffffff" stroke="#262626" stroke-width="3.4"/>
<line x1="1272" y1="105" x2="1441" y2="105" stroke="#000000" stroke-width="6.9"/>
<path d="M1338.5 104.5H1373.5M1356 87V122M1343.63 92.13L1368.37 116.87M1343.63 116.87L1368.37 92.13" stroke="#000000" stroke-width="6.6" fill="none"/>
<line x1="1272" y1="171.5" x2="1441" y2="171.5" stroke="#ff00ff" stroke-width="6.9"/>
<polygon points="1355.48,145.6 1356.52,145.6 1362.29,163.35 1380.95,163.35 1381.27,164.34 1366.17,175.3 1371.94,193.05 1371.1,193.66 1356,182.7 1340.9,193.66 1340.06,193.05 1345.83,175.3 1330.73,164.34 1331.05,163.35 1349.71,163.35" fill="#ff00ff"/>
<line x1="1272" y1="238.5" x2="1441" y2="238.5" stroke="#0000ff" stroke-width="6.9"/>
<path d="M1343.93 226.13L1368.67 250.87M1343.93 250.87L1368.67 226.13" stroke="#0000ff" stroke-width="6.6" fill="none"/>
<line x1="1272" y1="305.5" x2="1441" y2="305.5" stroke="#00ffff" stroke-width="6.9" stroke-dasharray="23.1 21.9"/>
<rect x="1342.4" y="291.4" width="28.2" height="28.2" fill="none" stroke="#00ffff" stroke-width="6.9"/>
<line x1="1272" y1="372" x2="1441" y2="372" stroke="#00ff00" stroke-width="6.9"/>
<path d="M1341.9 347.3L1384.9 372L1341.9 396.7ZM1348.4 358.8L1348.4 385.2L1371.5 372Z" fill="#00ff00" fill-rule="evenodd"/>
</g>
<g fill="#000000" font-size="50.7px">
<text transform="translate(1453 126) scale(1 1.04)" text-anchor="start">QKLMS</text>
<text transform="translate(1453 192.72) scale(1 1.04)" text-anchor="start">KMMCC</text>
<text transform="translate(1453 259.44) scale(1 1.04)" text-anchor="start">ANN</text>
<text transform="translate(1453 326.16) scale(1 1.04)" text-anchor="start">SVM</text>
<text transform="translate(1453 392.88) scale(1 1.04)" text-anchor="start">KMCCG</text>
</g>
</svg></body></html>
